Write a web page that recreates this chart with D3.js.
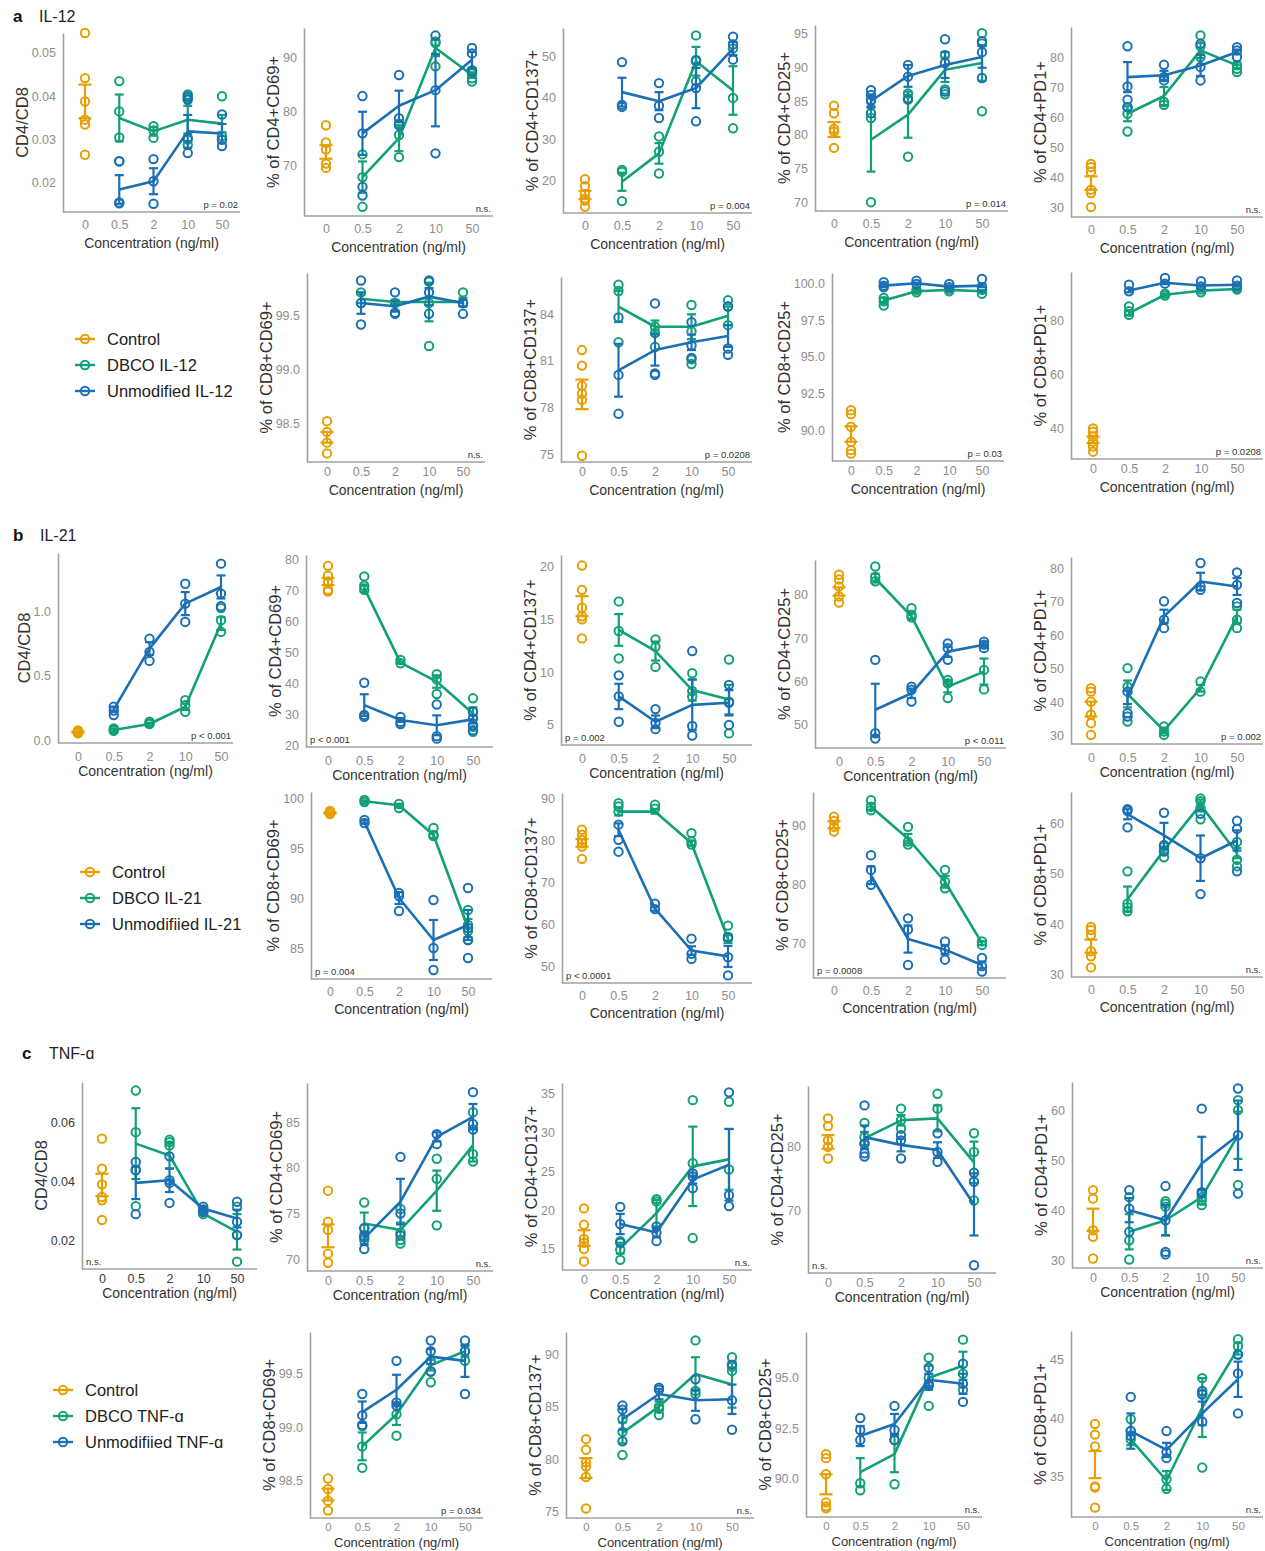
<!DOCTYPE html>
<html>
<head>
<meta charset="utf-8">
<script src="https://cdn.jsdelivr.net/npm/d3@7"></script>
<style>
  body { margin: 0; background: #fff; }
  svg text { font-family: "Liberation Sans", Arial, Helvetica, sans-serif; }
</style>
</head>
<body>
<svg id="fig" width="1265" height="1551"></svg>
<script>
// ---------------------------------------------------------------
// Shared categories and labels
// ---------------------------------------------------------------
const concentrations = ["0", "0.5", "2", "10", "50"];
const doseLevels = ["0.5", "2", "10", "50"];
const markerLabels = [
  "CD4/CD8", "% of CD4+CD69+", "% of CD4+CD137+", "% of CD4+CD25+", "% of CD4+PD1+",
  "% of CD8+CD69+", "% of CD8+CD137+", "% of CD8+CD25+", "% of CD8+PD1+"
];

// ---------------------------------------------------------------
// IL-12
// ---------------------------------------------------------------
const il12Legend = ["Control", "DBCO IL-12", "Unmodified IL-12"];
const il12Pvalues = ["p = 0.02", "n.s.", "p = 0.004", "p = 0.014", "n.s.", "n.s.", "p = 0.0208", "p = 0.03", "p = 0.0208"];
const il12Ticks = [[0.02, 0.03, 0.04, 0.05], [70, 80, 90], [20, 30, 40, 50], [70, 75, 80, 85, 90, 95], [30, 40, 50, 60, 70, 80], [98.5, 99, 99.5], [75, 78, 81, 84], [90, 92.5, 95, 97.5, 100], [40, 60, 80]];
const il12TickDigits = [2, 0, 0, 0, 0, 1, 0, 1, 0];
const il12Control = [
  [0.0546, 0.0442, 0.0388, 0.0346, 0.0335, 0.0265],
  [77.4, 74.2, 72.9, 70.3, 69.5],
  [20.2, 18.5, 16.6, 15.5, 15.0, 13.5],
  [84.3, 83.2, 80.9, 80.5, 78.1],
  [44.4, 43.3, 41.7, 35.8, 34.7, 30.0],
  [98.52, 98.42, 98.32, 98.22],
  [81.7, 80.7, 79.4, 78.9, 78.5, 74.9],
  [91.36, 91.09, 90.23, 89.2, 88.64, 88.4],
  [40.2, 39.0, 37.2, 35.3, 33.5, 31.6]
];
const il12ControlMean = [0.0388, 72.45, 16.4, 80.8, 38.0, 98.37, 78.85, 89.74, 36.0];
const il12ControlErr = [0.0039, 1.25, 1.0, 1.1, 2.25, 0.05, 0.95, 0.53, 1.2];
const il12Dbco = [
  [[0.0435, 0.0365, 0.0305, 0.025], [0.0331, 0.0321, 0.0304], [0.0404, 0.0396, 0.030, 0.0288], [0.040, 0.0308, 0.030]],
  [[72.0, 67.8, 62.3], [77.7, 75.6, 71.5], [92.9, 92.6, 88.3], [87.6, 87.0, 86.1, 85.5]],
  [[22.5, 22.0, 14.9], [30.6, 26.9, 21.6], [55.2, 48.9, 44.0], [52.0, 40.0, 32.6]],
  [[85.2, 82.5, 70.1], [86.1, 85.4, 76.8], [91.8, 86.7, 86.0], [95.0, 93.5, 83.5]],
  [[63.3, 61.1, 55.2], [73.3, 65.0, 64.1], [87.2, 83.6, 80.0], [77.2, 76.1, 75.0]],
  [[99.72, 99.62], [99.62], [99.82, 99.62, 99.22], [99.72, 99.62]],
  [[85.9, 85.5, 82.2], [83.2, 82.8, 81.9], [84.6, 82.9, 81.1, 80.8], [84.9, 84.5, 83.3]],
  [[99.0, 98.78, 98.48], [99.55, 99.39], [99.6, 99.46], [99.55, 99.28]],
  [[85.3, 83.5, 82.2], [90.0, 89.3], [91.5, 90.5], [92.1, 91.5]]
];
const il12DbcoMean = [
  [0.035, 0.0319, 0.0346, 0.0337], [67.8, 75.0, 91.7, 86.7], [19.6, 26.5, 48.9, 41.8],
  [79.3, 83.0, 89.6, 90.6], [61.1, 67.0, 82.2, 77.2], [99.66, 99.63, 99.63, 99.63],
  [84.5, 83.2, 83.2, 83.9], [98.82, 99.46, 99.55, 99.46], [82.8, 89.6, 91.1, 91.7]
];
const il12DbcoErr = [
  [0.0054, 0.001, 0.0032, 0.002], [2.9, 2.4, 1.5, 0.5], [2.2, 2.5, 3.5, 5.9],
  [4.7, 3.4, 1.8, 2.6], [2.5, 3.0, 2.5, 1.0], [0.04, 0.02, 0.18, 0.04],
  [1.0, 0.4, 0.8, 0.6], [0.2, 0.1, 0.05, 0.06], [0.9, 0.4, 0.3, 0.3]
];
const il12Unmod = [
  [[0.025, 0.0155, 0.0153], [0.0255, 0.0204, 0.0152], [0.040, 0.0392, 0.0304, 0.0269], [0.0358, 0.030, 0.0285]],
  [[82.8, 75.9, 66.0, 64.4], [86.7, 78.7, 77.4], [94.0, 83.9, 72.2], [91.7, 90.7, 87.3]],
  [[48.7, 38.3, 37.8], [43.6, 38.1, 35.1], [49.2, 42.4, 34.3], [54.9, 53.0, 49.3]],
  [[86.6, 85.9, 85.0, 83.2], [90.3, 88.6, 85.2], [94.1, 90.6, 86.4], [93.8, 92.2, 88.4]],
  [[83.6, 70.2, 65.8, 63.3], [77.4, 73.3, 72.2], [84.4, 76.7, 72.2], [83.3, 82.2, 80.0]],
  [[99.83, 99.62, 99.42], [99.72, 99.53, 99.52], [99.83, 99.72, 99.52], [99.62, 99.52]],
  [[83.8, 80.1, 77.6], [84.7, 80.2, 80.1], [83.5, 82.0, 81.2], [84.5, 81.8, 81.4]],
  [[100.07, 99.84, 99.73], [100.18, 99.95], [99.95, 99.73], [100.29, 99.73]],
  [[93.3, 90.9], [95.8, 93.7], [94.6, 92.7], [94.9, 92.9]]
];
const il12UnmodMean = [
  [0.0185, 0.0204, 0.0319, 0.0314], [75.9, 81.0, 83.9, 89.5], [41.4, 39.2, 42.4, 52.0],
  [85.0, 88.7, 90.3, 91.5], [73.3, 73.9, 77.2, 81.7], [99.62, 99.59, 99.68, 99.62],
  [80.4, 81.7, 82.2, 82.6], [99.84, 100.0, 99.77, 99.84], [91.2, 94.0, 93.0, 93.3]
];
const il12UnmodErr = [
  [0.0033, 0.003, 0.0038, 0.0022], [4.0, 2.8, 6.7, 1.5], [3.5, 2.2, 4.9, 1.6],
  [0.8, 1.6, 1.9, 1.6], [5.0, 1.5, 3.5, 0.8], [0.1, 0.05, 0.08, 0.03],
  [1.7, 1.0, 0.5, 0.7], [0.1, 0.05, 0.05, 0.1], [0.7, 0.5, 0.4, 0.4]
];

// ---------------------------------------------------------------
// IL-21
// ---------------------------------------------------------------
const il21Legend = ["Control", "DBCO IL-21", "Unmodifiied IL-21"];
const il21Pvalues = ["p < 0.001", "p < 0.001", "p = 0.002", "p < 0.011", "p = 0.002", "p = 0.004", "p < 0.0001", "p = 0.0008", "n.s."];
const il21Ticks = [[0, 0.5, 1], [20, 30, 40, 50, 60, 70, 80], [5, 10, 15, 20], [50, 60, 70, 80], [30, 40, 50, 60, 70, 80], [85, 90, 95, 100], [50, 60, 70, 80, 90], [70, 80, 90], [30, 40, 50, 60]];
const il21TickDigits = [1, 0, 0, 0, 0, 0, 0, 0, 0];
const il21Control = [
  [0.075, 0.068, 0.062, 0.058, 0.052],
  [77.8, 74.6, 72.8, 70.1, 69.5],
  [20.1, 17.8, 16.1, 15.3, 15.0, 13.2],
  [84.6, 83.5, 81.9, 79.6, 78.2],
  [44.2, 43.2, 40.2, 36.3, 33.8, 30.3],
  [98.7, 98.6, 98.5, 98.4],
  [82.5, 81.3, 80.1, 79.3, 78.5, 75.6],
  [91.4, 90.7, 89.7, 88.9],
  [39.5, 38.9, 37.9, 34.7, 33.7, 31.5]
];
const il21ControlMean = [0.062, 72.75, 16.25, 80.75, 38.0, 98.5, 79.4, 90.05, 35.7];
const il21ControlErr = [0.005, 1.15, 0.95, 0.95, 2.2, 0.08, 0.9, 0.6, 1.3];
const il21Dbco = [
  [[0.09, 0.078, 0.073], [0.143, 0.13, 0.125], [0.312, 0.273, 0.221], [1.03, 0.935, 0.844]],
  [[74.4, 71.4, 70.1], [47.5, 46.4], [42.9, 41.2, 36.5], [35.1, 30.8, 25.9, 24.3]],
  [[16.7, 13.9, 11.3], [13.1, 12.4, 10.5], [9.9, 8.2, 7.7], [11.2, 7.2, 4.2]],
  [[86.5, 84.1, 83.1], [76.9, 75.4, 74.8], [60.4, 59.6, 56.2], [62.7, 58.2]],
  [[50.2, 44.7, 34.3], [32.8, 31.3, 30.3], [46.2, 43.2], [68.6, 64.6, 62.1]],
  [[99.8, 99.6], [99.4, 99.0], [97.0, 96.3, 96.2], [88.8, 87.3, 86.7, 85.8]],
  [[88.8, 88.0, 86.8], [88.4, 87.5], [81.7, 79.7, 79.0], [59.8, 56.7]],
  [[94.2, 93.1, 92.5], [89.7, 87.2, 86.7], [82.4, 80.4, 79.3], [70.3, 69.7]],
  [[50.5, 44.1, 43.4, 42.6], [55.4, 54.7, 53.3], [64.9, 64.4, 63.1, 60.8], [56.3, 52.8, 51.5]]
];
const il21DbcoMean = [
  [0.078, 0.125, 0.26, 0.91], [70.6, 46.6, 40.5, 30.2], [14.0, 12.0, 8.3, 7.4],
  [83.8, 75.0, 58.8, 62.3], [42.5, 31.6, 44.2, 65.6], [99.67, 99.27, 96.3, 87.0],
  [86.8, 86.8, 79.3, 56.7], [93.1, 87.7, 80.4, 70.0], [45.0, 54.7, 63.7, 54.1]
];
const il21DbcoErr = [
  [0.01, 0.01, 0.025, 0.05], [1.2, 0.3, 2.0, 2.0], [1.5, 0.9, 1.0, 1.4],
  [1.0, 0.7, 1.3, 3.0], [4.0, 0.8, 1.0, 2.0], [0.1, 0.15, 0.3, 0.9],
  [0.9, 0.5, 0.6, 1.0], [0.5, 0.8, 1.0, 0.3], [2.5, 0.6, 1.0, 1.0]
];
const il21Unmod = [
  [[0.26, 0.23, 0.195], [0.792, 0.688, 0.618], [1.22, 1.065, 0.922], [1.377, 1.143, 1.044]],
  [[40.1, 29.7, 29.1], [29.1, 27.5, 26.8], [33.1, 22.9, 22.1], [30.8, 28.6, 26.4, 24.8]],
  [[9.7, 7.7, 5.3], [6.5, 5.2, 4.6], [12.0, 4.9, 4.0], [8.8, 7.1, 5.0]],
  [[65.0, 48.1, 46.9], [58.8, 58.1, 55.4], [68.8, 67.7, 65.0], [69.2, 68.5, 67.7]],
  [[43.2, 36.8, 35.8], [70.1, 64.6, 62.1], [81.5, 74.5, 73.5], [78.7, 75.0, 69.6]],
  [[97.8, 97.5], [90.5, 90.2, 88.7], [89.8, 85.0, 82.8], [91.0, 87.0, 85.8, 84.0]],
  [[83.7, 80.1, 77.3], [65.0, 63.7], [56.7, 53.1, 51.9], [57.1, 52.3, 48.0]],
  [[84.9, 82.4, 79.9], [74.2, 72.3, 66.3], [70.3, 68.9, 67.2], [67.5, 66.1, 65.2]],
  [[62.8, 62.5, 59.2], [62.1, 55.7, 54.4], [61.9, 53.1, 46.0], [60.5, 58.9, 50.5]]
];
const il21UnmodMean = [
  [0.24, 0.714, 1.065, 1.195], [32.9, 28.1, 26.4, 28.3], [7.7, 5.3, 6.9, 7.1],
  [53.5, 57.3, 66.9, 68.5], [41.5, 65.6, 76.0, 74.5], [97.6, 90.0, 85.8, 87.3],
  [82.5, 63.8, 53.9, 52.5], [81.5, 70.7, 68.9, 66.3], [61.8, 57.6, 53.1, 56.6]
];
const il21UnmodErr = [
  [0.02, 0.05, 0.09, 0.09], [3.5, 0.6, 3.2, 1.3], [1.2, 0.6, 2.4, 1.2],
  [6.0, 1.1, 1.2, 0.5], [2.0, 2.0, 2.6, 2.5], [0.15, 0.6, 2.0, 1.5],
  [1.5, 0.5, 1.0, 2.5], [1.5, 2.3, 0.8, 0.6], [1.0, 2.5, 4.5, 2.0]
];

// ---------------------------------------------------------------
// TNF-α
// ---------------------------------------------------------------
const tnfLegend = ["Control", "DBCO TNF-\u0251", "Unmodifiied TNF-\u0251"];
const tnfPvalues = ["n.s.", "n.s.", "n.s.", "n.s.", "n.s.", "p = 0.034", "n.s.", "n.s.", "n.s."];
const tnfTicks = [[0.02, 0.04, 0.06], [70, 75, 80, 85], [15, 20, 25, 30, 35], [70, 80], [30, 40, 50, 60], [98.5, 99, 99.5], [75, 80, 85, 90], [90, 92.5, 95], [35, 40, 45]];
const tnfTickDigits = [2, 0, 0, 0, 0, 1, 0, 1, 0];
const tnfControl = [
  [0.0544, 0.0442, 0.0389, 0.0346, 0.0335, 0.0268],
  [77.5, 74.1, 73.2, 70.6, 69.6],
  [20.2, 18.1, 16.3, 15.8, 15.0, 13.4],
  [84.3, 83.1, 80.9, 79.9, 78.1],
  [44.1, 42.4, 36.1, 34.8, 30.5],
  [98.52, 98.42, 98.31, 98.22],
  [81.9, 80.9, 79.7, 79.3, 78.3, 75.3],
  [91.2, 91.0, 90.2, 88.8, 88.6, 88.5],
  [39.5, 38.6, 37.6, 34.2, 34.1, 32.4]
];
const tnfControlMean = [0.0387, 72.55, 16.4, 80.65, 38.2, 98.37, 79.15, 89.7, 36.05];
const tnfControlErr = [0.0038, 1.25, 1.0, 1.05, 2.2, 0.055, 0.95, 0.5, 1.15];
const tnfDbco = [
  [[0.0707, 0.0566, 0.0437, 0.0315], [0.054, 0.0532, 0.0521], [0.0296, 0.0288], [0.0313, 0.0217, 0.0127]],
  [[76.2, 73.4, 72.6, 72.1], [75.5, 72.9, 72.1, 71.7], [81.0, 78.8, 73.7], [86.1, 81.5, 80.7]],
  [[16.0, 14.9, 13.6], [21.4, 21.1], [34.1, 26.0, 16.4], [33.9, 25.2]],
  [[83.6, 81.4, 80.4], [85.8, 84.0, 82.7], [88.1, 85.8], [82.0, 79.1, 71.6]],
  [[42.7, 34.1, 30.3], [41.9, 41.4, 40.8], [42.7, 42.1, 41.1], [62.0, 60.0, 45.1]],
  [[99.01, 98.82, 98.62], [99.12, 98.92], [99.62, 99.52, 99.42], [99.71, 99.62]],
  [[83.8, 82.6, 80.4], [85.0, 84.8, 84.2], [91.3, 86.5, 86.2], [89.7, 88.8, 88.4]],
  [[89.75, 89.4], [91.9, 89.7], [96.0, 95.0, 93.6], [96.9, 95.2, 94.4]],
  [[39.9, 38.9, 38.2], [34.8, 34.0], [43.4, 42.1, 35.8], [46.7, 46.1, 45.4]]
];
const tnfDbcoMean = [
  [0.0527, 0.0487, 0.029, 0.0228], [73.9, 73.2, 77.5, 82.5], [15.1, 19.6, 25.6, 26.5],
  [81.2, 84.0, 84.3, 77.5], [35.8, 38.1, 42.7, 55.0], [98.82, 99.12, 99.58, 99.71],
  [82.5, 85.0, 88.1, 87.1], [90.3, 91.2, 95.0, 95.6], [38.2, 34.7, 40.9, 45.9]
];
const tnfDbcoErr = [
  [0.012, 0.0045, 0.0005, 0.006], [1.2, 0.8, 2.2, 1.8], [0.7, 1.7, 5.1, 3.9],
  [1.0, 0.8, 2.0, 3.2], [3.5, 3.0, 1.5, 4.7], [0.13, 0.1, 0.05, 0.05],
  [1.0, 0.5, 1.6, 2.2], [0.7, 0.9, 0.6, 0.7], [0.5, 0.8, 2.5, 0.5]
];
const tnfUnmod = [
  [[0.0465, 0.0437, 0.0288], [0.0484, 0.0403, 0.0394, 0.0326], [0.0313, 0.0304, 0.0296], [0.033, 0.0262, 0.0217]],
  [[73.4, 72.4, 71.1], [81.2, 75.0, 72.6], [83.7, 82.6], [88.3, 84.8, 84.2]],
  [[20.4, 18.2, 15.8], [17.9, 17.1, 16.0], [24.7, 24.3, 22.8], [35.1, 21.9, 20.5]],
  [[86.3, 80.4, 78.9, 78.4], [81.7, 80.9, 78.1], [82.0, 79.1, 77.6], [75.9, 74.5, 61.6]],
  [[44.1, 40.4, 35.8], [44.9, 38.1, 31.8, 31.3], [60.3, 43.7, 43.4], [64.3, 55.0, 43.4]],
  [[99.31, 99.11, 99.02], [99.62, 99.23, 99.2], [99.81, 99.71, 99.52], [99.81, 99.71, 99.31]],
  [[85.1, 84.7, 81.7], [86.8, 86.6], [87.6, 83.8], [89.0, 85.6, 82.8]],
  [[93.0, 92.4, 91.9], [93.6, 92.4, 91.9], [95.5, 94.7, 94.6], [95.7, 94.7, 93.8]],
  [[41.8, 38.9, 38.5], [38.9, 37.1, 36.6], [42.3, 42.0, 39.7], [45.4, 43.8, 40.4]]
];
const tnfUnmodMean = [
  [0.0394, 0.0403, 0.0307, 0.0273], [72.3, 76.3, 83.4, 85.6], [18.2, 17.1, 23.9, 25.8],
  [81.4, 80.2, 79.4, 71.0], [40.1, 38.1, 49.4, 55.0], [99.14, 99.35, 99.66, 99.62],
  [83.8, 86.2, 85.6, 85.7], [92.1, 92.7, 94.9, 94.7], [38.9, 37.3, 40.4, 43.3]
];
const tnfUnmodErr = [
  [0.0055, 0.004, 0.0005, 0.003], [0.7, 2.5, 0.5, 1.4], [1.3, 0.6, 0.5, 4.6],
  [1.8, 1.0, 1.2, 4.8], [2.4, 3.0, 5.3, 6.9], [0.1, 0.14, 0.07, 0.15],
  [1.0, 0.5, 1.0, 1.4], [0.5, 0.5, 0.3, 0.5], [1.5, 0.6, 1.0, 1.5]
];

// ---------------------------------------------------------------
// Panel frames: [axisX, firstTickX, lastTickX, axisEndX, top, bottom, yMin, yMax]
// ---------------------------------------------------------------
const il12Frames = [
  [63, 85, 222, 240, 33, 212, 0.0133, 0.0546],
  [304, 326, 472, 493, 28, 216, 60.6, 95.4],
  [563, 585, 733, 752, 28, 213, 12, 57],
  [815, 834, 982, 1008, 25, 211, 68.8, 96.2],
  [1071, 1091, 1237, 1263, 27, 217, 26.7, 90],
  [307, 327, 463, 485, 273, 462, 98.14, 99.9],
  [561, 582, 728, 752, 277, 462, 74.5, 86.4],
  [832, 851, 982, 1004, 273, 461, 87.9, 100.7],
  [1071, 1093, 1237, 1263, 272, 459, 28.9, 98]
];
const il21Frames = [
  [58, 78, 221, 233, 553, 743, -0.023, 1.46],
  [306, 328, 473, 493, 555, 747, 19.4, 81.3],
  [561, 582, 729, 752, 555, 745, 3.1, 21.1],
  [815, 839, 984, 1006, 560, 748, 44.7, 88],
  [1071, 1091, 1237, 1263, 557, 744, 27.6, 83.3],
  [311, 330, 468, 492, 792, 979, 81.9, 100.6],
  [562, 582, 728, 752, 793, 983, 46.2, 91.2],
  [813, 834, 982, 1006, 792, 978, 64.1, 95.6],
  [1071, 1091, 1237, 1263, 792, 977, 29.6, 66.2]
];
const tnfFrames = [
  [82, 102, 237, 257, 1082, 1269, 0.0102, 0.0736],
  [307, 328, 473, 493, 1083, 1271, 68.7, 89.3],
  [562, 584, 729, 752, 1083, 1270, 12.3, 36.3],
  [808, 828, 974, 996, 1086, 1273, 60.4, 89.3],
  [1072, 1093, 1238, 1263, 1082, 1268, 28.6, 65.6],
  [310, 328, 465, 483, 1332, 1518, 98.15, 99.89],
  [566, 586, 732, 754, 1332, 1518, 74.4, 92.1],
  [806, 826, 963, 982, 1332, 1517, 88.07, 97.28],
  [1071, 1095, 1238, 1263, 1331, 1517, 31.6, 47.4]
];
// side of the panel that carries the significance note
const il12PSide = ["R", "R", "R", "R", "R", "R", "R", "R", "R"];
const il21PSide = ["R", "L", "L", "R", "R", "L", "L", "L", "R"];
const tnfPSide = ["L", "R", "R", "L", "R", "R", "R", "R", "R"];

// ---------------------------------------------------------------
// Styling
// ---------------------------------------------------------------
const COLOR = { control: "#E69F00", dbco: "#11A077", unmod: "#1A6FB5" };
const AXIS_COLOR = "#a0a0a0";
const TICK_COLOR = "#8e8e8e";

// per row: [tick label centre offset, title baseline offset, title size, tick size]
const sections = [
  {
    tag: "a", name: "IL-12", headY: 22, tagX: 13, nameX: 39,
    legend: il12Legend, legendPos: { cx: 85, tx: 107, y: 339 },
    rowOffsets: [[12.5, 36, 14, 12.5], [10, 33, 14, 12.5]],
    frames: il12Frames, ticks: il12Ticks, digits: il12TickDigits, pvals: il12Pvalues, pside: il12PSide,
    control: il12Control, controlMean: il12ControlMean, controlErr: il12ControlErr,
    dbco: il12Dbco, dbcoMean: il12DbcoMean, dbcoErr: il12DbcoErr,
    unmod: il12Unmod, unmodMean: il12UnmodMean, unmodErr: il12UnmodErr
  },
  {
    tag: "b", name: "IL-21", headY: 541, tagX: 13, nameX: 40,
    legend: il21Legend, legendPos: { cx: 90, tx: 112, y: 872 },
    rowOffsets: [[14, 33, 14, 12.5], [13, 35, 14, 12.5]],
    frames: il21Frames, ticks: il21Ticks, digits: il21TickDigits, pvals: il21Pvalues, pside: il21PSide,
    control: il21Control, controlMean: il21ControlMean, controlErr: il21ControlErr,
    dbco: il21Dbco, dbcoMean: il21DbcoMean, dbcoErr: il21DbcoErr,
    unmod: il21Unmod, unmodMean: il21UnmodMean, unmodErr: il21UnmodErr
  },
  {
    tag: "c", name: "TNF-\u0251", headY: 1059, tagX: 22, nameX: 49,
    legend: tnfLegend, legendPos: { cx: 63, tx: 85, y: 1390 },
    rowOffsets: [[9.5, 29, 14, 12.5], [9, 28.5, 13, 11.5]],
    frames: tnfFrames, ticks: tnfTicks, digits: tnfTickDigits, pvals: tnfPvalues, pside: tnfPSide,
    control: tnfControl, controlMean: tnfControlMean, controlErr: tnfControlErr,
    dbco: tnfDbco, dbcoMean: tnfDbcoMean, dbcoErr: tnfDbcoErr,
    unmod: tnfUnmod, unmodMean: tnfUnmodMean, unmodErr: tnfUnmodErr,
    darkFirstTicks: true
  }
];

const svg = d3.select("#fig");

function drawErrorBar(g, x, y, cx, mean, err, half, color, width) {
  const y1 = y(mean - err), y2 = y(mean + err);
  g.append("line").attr("x1", x(cx)).attr("x2", x(cx)).attr("y1", y1).attr("y2", y2)
    .attr("stroke", color).attr("stroke-width", width);
  [y1, y2].forEach(yy => g.append("line")
    .attr("x1", x(cx) - half).attr("x2", x(cx) + half).attr("y1", yy).attr("y2", yy)
    .attr("stroke", color).attr("stroke-width", width));
}

function drawPoints(g, x, y, cx, values, color) {
  g.selectAll(null).data(values).enter().append("circle")
    .attr("cx", x(cx)).attr("cy", d => y(d)).attr("r", 4.2)
    .attr("fill", "none").attr("stroke", color).attr("stroke-width", 2);
}

function drawSeries(g, x, y, pts, means, errs, color) {
  const line = d3.line().x((d, i) => x(doseLevels[i])).y(d => y(d));
  g.append("path").datum(means).attr("d", line)
    .attr("fill", "none").attr("stroke", color).attr("stroke-width", 2.6)
    .attr("stroke-linejoin", "round");
  doseLevels.forEach((c, i) => {
    drawErrorBar(g, x, y, c, means[i], errs[i], 4.5, color, 2.2);
    drawPoints(g, x, y, c, pts[i], color);
  });
}

sections.forEach(sec => {
  // section heading
  svg.append("text").attr("x", sec.tagX).attr("y", sec.headY)
    .attr("font-size", 17).attr("font-weight", "bold").attr("fill", "#111").text(sec.tag);
  svg.append("text").attr("x", sec.nameX).attr("y", sec.headY)
    .attr("font-size", 16).attr("fill", "#222").text(sec.name);

  // legend
  const lg = svg.append("g");
  const legendColors = [COLOR.control, COLOR.dbco, COLOR.unmod];
  sec.legend.forEach((label, i) => {
    const yy = sec.legendPos.y + i * 26;
    lg.append("line").attr("x1", sec.legendPos.cx - 10).attr("x2", sec.legendPos.cx + 10)
      .attr("y1", yy).attr("y2", yy).attr("stroke", legendColors[i]).attr("stroke-width", 2.4);
    lg.append("circle").attr("cx", sec.legendPos.cx).attr("cy", yy).attr("r", 4.2)
      .attr("fill", "none").attr("stroke", legendColors[i]).attr("stroke-width", 2);
    lg.append("text").attr("x", sec.legendPos.tx).attr("y", yy).attr("dy", "0.36em")
      .attr("font-size", 16.5).attr("fill", "#222").text(label);
  });

  sec.frames.forEach((f, p) => {
    const [ax, x0, x4, xEnd, top, bottom, yMin, yMax] = f;
    const row = p < 5 ? 0 : 1;
    const [tickOff, titleOff, titleSize, tickSize] = sec.rowOffsets[row];
    const x = d3.scalePoint().domain(concentrations).range([x0, x4]);
    const y = d3.scaleLinear().domain([yMin, yMax]).range([bottom, top]);
    const g = svg.append("g");
    const tickColor = (sec.darkFirstTicks && p === 0) ? "#3a3a3a" : TICK_COLOR;

    // y axis
    const yAxis = d3.axisLeft(y).tickValues(sec.ticks[p]).tickSize(0).tickSizeOuter(0)
      .tickPadding(7).tickFormat(d3.format("." + sec.digits[p] + "f"));
    const ya = g.append("g").attr("transform", `translate(${ax},0)`).call(yAxis);
    ya.select(".domain").attr("stroke", AXIS_COLOR).attr("stroke-width", 1.6);
    ya.selectAll("text").attr("fill", tickColor).attr("font-size", 12.5)
      .attr("font-family", null);

    // x axis
    g.append("line").attr("x1", ax).attr("x2", xEnd).attr("y1", bottom).attr("y2", bottom)
      .attr("stroke", AXIS_COLOR).attr("stroke-width", 1.6);
    const xa = g.append("g").attr("transform", `translate(0,${bottom})`)
      .call(d3.axisBottom(x).tickSize(0));
    xa.select(".domain").remove();
    xa.selectAll("text").attr("y", tickOff).attr("dy", "0.35em")
      .attr("fill", tickColor).attr("font-size", tickSize).attr("font-family", null);

    // axis titles
    g.append("text").attr("x", (ax + xEnd) / 2).attr("y", bottom + titleOff)
      .attr("text-anchor", "middle").attr("font-size", titleSize).attr("fill", "#333")
      .text("Concentration (ng/ml)");
    let minX = ax;
    ya.selectAll("text").each(function () {
      const b = this.getBBox();
      const gx = ax + b.x;
      if (gx < minX) minX = gx;
    });
    g.append("text")
      .attr("transform", `translate(${minX - 4},${(top + bottom) / 2}) rotate(-90)`)
      .attr("text-anchor", "middle").attr("font-size", 16.5).attr("fill", "#333")
      .text(markerLabels[p]);

    // significance note
    const right = sec.pside[p] === "R";
    g.append("text").attr("x", right ? xEnd - 2 : ax + 4).attr("y", bottom - 4)
      .attr("text-anchor", right ? "end" : "start")
      .attr("font-size", 9.5).attr("fill", "#333").text(sec.pvals[p]);

    // control group
    drawErrorBar(g, x, y, "0", sec.controlMean[p], sec.controlErr[p], 6.5, COLOR.control, 2.2);
    drawPoints(g, x, y, "0", sec.control[p], COLOR.control);

    // treated groups
    drawSeries(g, x, y, sec.dbco[p], sec.dbcoMean[p], sec.dbcoErr[p], COLOR.dbco);
    drawSeries(g, x, y, sec.unmod[p], sec.unmodMean[p], sec.unmodErr[p], COLOR.unmod);
  });
});
</script>
</body>
</html>
